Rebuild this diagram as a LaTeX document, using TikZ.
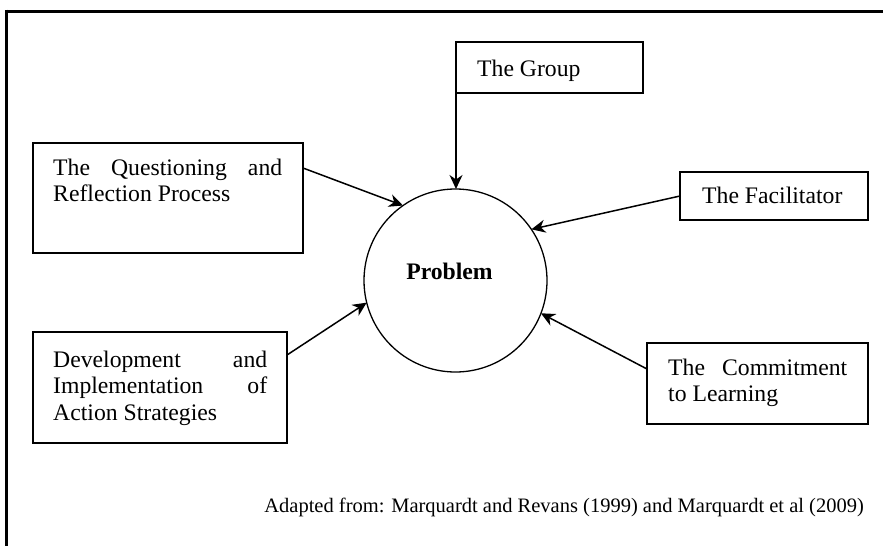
\documentclass[tikz,border=0pt]{standalone}
\usepackage{fontspec}
\setmainfont{Liberation Serif}
\usetikzlibrary{arrows.meta}
\begin{document}
\begin{tikzpicture}[x=1pt,y=-1pt,
  box/.style={draw, line width=1.5pt, inner sep=0pt, outer sep=0pt, anchor=north west},
  boxtext/.style={anchor=base west, inner sep=0pt, font=\fontsize{23.7}{26.5}\selectfont},
  link/.style={line width=1.5pt, -{Stealth[length=14pt,width=13pt,inset=4.5pt]}},
  edge/.style={line width=3pt}]
\useasboundingbox (0,0) rectangle (883,546);

% page frame (top and left edges)
\draw[line width=2.5pt] (5,11.3) -- (883,11.3);
\draw[edge] (6.5,9.5) -- (6.5,546);

% central problem
\node[draw, circle, minimum size=183pt, line width=1.3pt, inner sep=0pt, outer sep=0pt] (prob) at (455.5,280.5) {};
\node[anchor=base, inner sep=0pt, font=\fontsize{23.7}{26.5}\selectfont\bfseries] (probtext) at (449.5,279) {Problem};

% surrounding elements
\node[box, minimum width=187pt, minimum height=51pt] (grp) at (456,42) {};
\node[boxtext] (grptext) at (477,76) {The Group};

\node[box, minimum width=188pt, minimum height=48pt] (fac) at (680,172) {};
\node[boxtext] (factext) at (702,203) {The Facilitator};

\node[box, minimum width=270pt, minimum height=110pt] (q) at (33,143) {};
\node[boxtext] (qtext) at (53,175) {\parbox[t]{229pt}{\makebox[229pt][s]{The Questioning and}\\Reflection Process}};

\node[box, minimum width=254pt, minimum height=111pt] (dev) at (33,332) {};
\node[boxtext] (devtext) at (53,367) {\parbox[t]{214pt}{\makebox[214pt][s]{Development and}\\\makebox[214pt][s]{Implementation of}\\Action Strategies}};

\node[box, minimum width=221pt, minimum height=81pt] (com) at (647,343) {};
\node[boxtext] (comtext) at (668,375) {\parbox[t]{179pt}{\makebox[179pt][s]{The Commitment}\\to Learning}};

% connectors into the problem
\draw[link] (grp.south west) -- (grp.south west |- prob.north);
\draw[link] (fac.west) -- (prob.34);
\draw[link] ([yshift=-25pt]q.north east) -- (prob.125);
\draw[link] ([yshift=-23pt]dev.north east) -- (prob.194);
\draw[link] ([yshift=-26pt]com.north west) -- (prob.-21);

% source note
\node[anchor=base east, inner sep=0pt, font=\fontsize{20.5}{22}\selectfont] (src) at (864,512) {Adapted from: Marquardt and Revans (1999) and Marquardt et al (2009)};
\end{tikzpicture}
\end{document}
